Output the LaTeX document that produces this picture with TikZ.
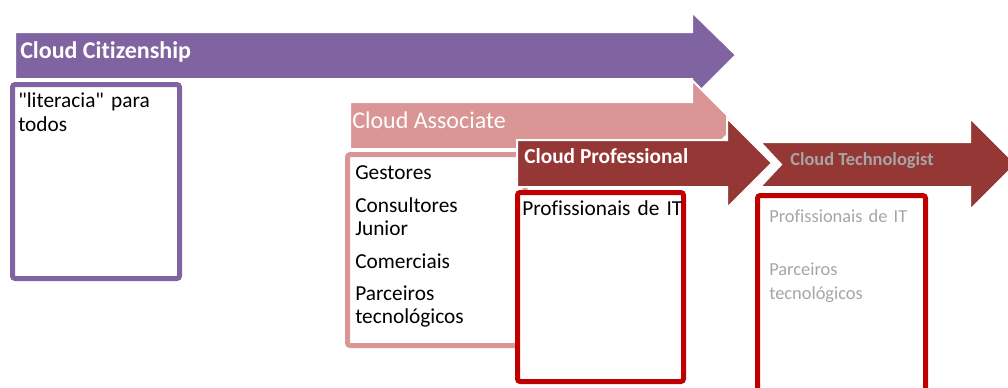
\documentclass[tikz,border=0pt]{standalone}
\usepackage{fontspec}
\setmainfont{Carlito}[Ligatures={TeXOff,CommonOff}]
\definecolor{citpurple}{HTML}{8064A2}
\definecolor{assocpink}{HTML}{D99694}
\definecolor{profred}{HTML}{953735}
\definecolor{boxred}{HTML}{C00000}
\definecolor{techgray}{HTML}{A6A6A6}
\begin{document}
\begin{tikzpicture}[x=0.75pt,y=-0.75pt,
    band/.style={fill=#1,draw=white,line width=1.5pt},
    boxframe/.style={draw=#1,line width=3.75pt,fill=white,rounded corners=2pt},
    bandlabel/.style={anchor=base west,inner sep=0pt,text=white},
    boxtext/.style={anchor=base west,inner sep=0pt,align=left,text width=#1}
    ]
  \clip (0,0) rectangle (1008,387);
  % the four bands
  \draw[band=citpurple] (15,32) -- (692,32) -- (692,12) -- (736,55)
        -- (692,99) -- (692,79) -- (15,79) -- cycle;
  \draw[boxframe=citpurple] (12.5,84.5) rectangle (179.5,278.5);
  \draw[band=assocpink] (350,102) -- (692,102) -- (692,80) -- (737,125)
        -- (692,170) -- (692,149) -- (350,149) -- cycle;
  \draw[boxframe=assocpink] (347.5,154.5) rectangle (525,345.5);
  \draw[band=profred] (517,140) -- (727,140) -- (727,118) -- (772,163)
        -- (727,208) -- (727,187) -- (517,187) -- cycle;
  \draw[boxframe=boxred] (517.5,192.5) rectangle (683.5,381.5);
  \draw[band=profred] (760,142) -- (970,142) -- (970,118) -- (1016,164)
        -- (970,210) -- (970,187) -- (760,187) -- (781,164.5) -- cycle;
  \draw[boxframe=boxred] (757.5,195.5) rectangle (925.5,420);

  % labels
  \node[bandlabel,font=\fontsize{18pt}{20pt}\selectfont\bfseries] (citlabel)
        at (20,58) {Cloud Citizenship};
  \node[bandlabel,font=\fontsize{18pt}{20pt}\selectfont] (assoclabel)
        at (352,128) {Cloud Associate};
  \node[bandlabel,font=\fontsize{16pt}{18pt}\selectfont\bfseries] (proflabel)
        at (524,163) {Cloud Professional};
  \node[bandlabel,text=techgray,font=\fontsize{13.8pt}{16pt}\selectfont\bfseries] (techlabel)
        at (790,165) {Cloud Technologist};

  \node[boxtext=160pt,font=\fontsize{16pt}{18pt}\selectfont] (cittext)
        at (18,107) {"literacia" para\\todos};
  \node[boxtext=160pt,font=\fontsize{16pt}{17.25pt}\selectfont] (assoctext)
        at (355,179) {Gestores\\[7.5pt]Consultores\\Junior\\[7.5pt]Comerciais\\[6.75pt]Parceiros\\tecnológicos};
  \node[boxtext=160pt,font=\fontsize{16pt}{18pt}\selectfont] (proftext)
        at (522,215) {Profissionais de IT};
  \node[boxtext=160pt,text=techgray,font=\fontsize{13.8pt}{18pt}\selectfont] (techtext)
        at (769,222) {Profissionais de IT\\[21.75pt]Parceiros\\tecnológicos};
\end{tikzpicture}
\end{document}
